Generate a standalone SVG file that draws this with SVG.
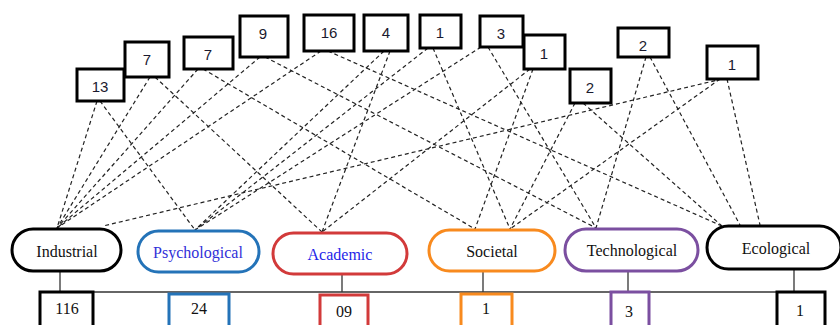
<svg xmlns="http://www.w3.org/2000/svg" width="840" height="325" viewBox="0 0 840 325">
<defs>
<style>
.bg{fill:#ffffff}
.tb{fill:#ffffff;stroke:#000;stroke-width:3}
.tn{font-family:"Liberation Sans",Arial,sans-serif;font-size:15px;fill:#1a1a2e;text-anchor:middle}
.cn line{stroke:#222;stroke-width:1.2;stroke-dasharray:4 3;fill:none}
.pill{fill:#ffffff;stroke-width:3}
.lb{font-family:"Liberation Serif","Times New Roman",serif;font-size:16px;text-anchor:middle;fill:#111}
.stub{stroke:#333;stroke-width:1.3}
.nb{fill:#ffffff;stroke-width:3}
</style>
</defs>
<rect class="bg" x="0" y="0" width="840" height="325"/>

<g id="connectors" class="cn">
<line x1="97" y1="101" x2="57" y2="228"/>
<line x1="100" y1="101" x2="195" y2="230"/>
<line x1="150" y1="77" x2="57" y2="228"/>
<line x1="155" y1="77" x2="322" y2="232"/>
<line x1="198" y1="69" x2="57" y2="228"/>
<line x1="203" y1="69" x2="475" y2="229"/>
<line x1="260" y1="57" x2="57" y2="228"/>
<line x1="265" y1="57" x2="596" y2="228"/>
<line x1="321" y1="51" x2="57" y2="228"/>
<line x1="328" y1="51" x2="722" y2="226"/>
<line x1="384" y1="51" x2="195" y2="230"/>
<line x1="390" y1="51" x2="322" y2="232"/>
<line x1="428" y1="48" x2="195" y2="230"/>
<line x1="433" y1="48" x2="510" y2="229"/>
<line x1="481" y1="47" x2="195" y2="230"/>
<line x1="488" y1="47" x2="596" y2="228"/>
<line x1="530" y1="69" x2="322" y2="232"/>
<line x1="533" y1="69" x2="475" y2="229"/>
<line x1="575" y1="103" x2="510" y2="229"/>
<line x1="583" y1="103" x2="722" y2="226"/>
<line x1="646" y1="57" x2="596" y2="228"/>
<line x1="650" y1="57" x2="740" y2="225"/>
<line x1="722" y1="79" x2="103" y2="226"/>
<line x1="720" y1="79" x2="510" y2="229"/>
<line x1="727" y1="79" x2="760" y2="225"/>
</g>

<g id="top-13"><rect class="tb" x="77" y="69" width="47" height="32"/><text class="tn" x="100" y="92">13</text></g>
<g id="top-7a"><rect class="tb" x="125" y="42" width="44" height="35"/><text class="tn" x="147" y="65">7</text></g>
<g id="top-7b"><rect class="tb" x="184" y="37" width="49" height="32"/><text class="tn" x="208" y="60">7</text></g>
<g id="top-9"><rect class="tb" x="240" y="16" width="48" height="41"/><text class="tn" x="263" y="39">9</text></g>
<g id="top-16"><rect class="tb" x="304" y="15" width="50" height="36"/><text class="tn" x="329" y="38">16</text></g>
<g id="top-4"><rect class="tb" x="364" y="15" width="44" height="36"/><text class="tn" x="386" y="38">4</text></g>
<g id="top-1a"><rect class="tb" x="420" y="15" width="41" height="33"/><text class="tn" x="440" y="38">1</text></g>
<g id="top-3"><rect class="tb" x="480" y="16" width="43" height="31"/><text class="tn" x="501" y="39">3</text></g>
<g id="top-1b"><rect class="tb" x="524" y="35" width="41" height="34"/><text class="tn" x="544" y="59">1</text></g>
<g id="top-2a"><rect class="tb" x="570" y="69" width="41" height="34"/><text class="tn" x="590" y="93">2</text></g>
<g id="top-2b"><rect class="tb" x="618" y="28" width="51" height="29"/><text class="tn" x="643" y="51">2</text></g>
<g id="top-1c"><rect class="tb" x="707" y="46" width="51" height="33"/><text class="tn" x="732" y="70">1</text></g>

<g id="bus">
<line class="stub" x1="93" y1="292" x2="776" y2="292"/>
</g>

<g id="industrial">
<line class="stub" x1="60" y1="272" x2="60" y2="292"/>
<rect class="pill" x="12" y="229" width="109" height="42" rx="21" stroke="#000"/>
<text class="lb" x="67" y="257">Industrial</text>
<rect class="nb" x="40" y="292" width="53" height="40" stroke="#000"/>
<text class="lb" x="67" y="314">116</text>
</g>

<g id="psychological">
<rect class="pill" x="138" y="231" width="121" height="41" rx="20.5" stroke="#2473b8"/>
<text class="lb" x="198" y="258" fill="#3030d8" style="fill:#3030d8">Psychological</text>
<rect class="nb" x="169" y="294" width="60" height="40" stroke="#2473b8"/>
<text class="lb" x="199" y="314">24</text>
</g>

<g id="academic">
<line class="stub" x1="342" y1="275" x2="342" y2="292"/>
<rect class="pill" x="273" y="233" width="134" height="41" rx="20.5" stroke="#d23a3a"/>
<text class="lb" x="340" y="260" style="fill:#1f1fe8">Academic</text>
<rect class="nb" x="320" y="295" width="48" height="40" stroke="#d23a3a"/>
<text class="lb" x="344" y="317">09</text>
</g>

<g id="societal">
<line class="stub" x1="483" y1="271" x2="483" y2="292"/>
<rect class="pill" x="429" y="230" width="126" height="41" rx="20.5" stroke="#f88a1e"/>
<text class="lb" x="492" y="257">Societal</text>
<rect class="nb" x="461" y="294" width="51" height="40" stroke="#f88a1e"/>
<text class="lb" x="486" y="314">1</text>
</g>

<g id="technological">
<line class="stub" x1="628" y1="272" x2="628" y2="292"/>
<rect class="pill" x="565" y="229" width="133" height="42" rx="21" stroke="#7b4fa0"/>
<text class="lb" x="632" y="256">Technological</text>
<rect class="nb" x="611" y="292" width="38" height="40" stroke="#7b4fa0"/>
<text class="lb" x="629" y="317">3</text>
</g>

<g id="ecological">
<line class="stub" x1="794" y1="270" x2="794" y2="292"/>
<rect class="pill" x="707" y="226" width="134" height="43" rx="21.5" stroke="#000"/>
<text class="lb" x="776" y="254">Ecological</text>
<rect class="nb" x="777" y="292" width="48" height="40" stroke="#000"/>
<text class="lb" x="800" y="316">1</text>
</g>
</svg>
